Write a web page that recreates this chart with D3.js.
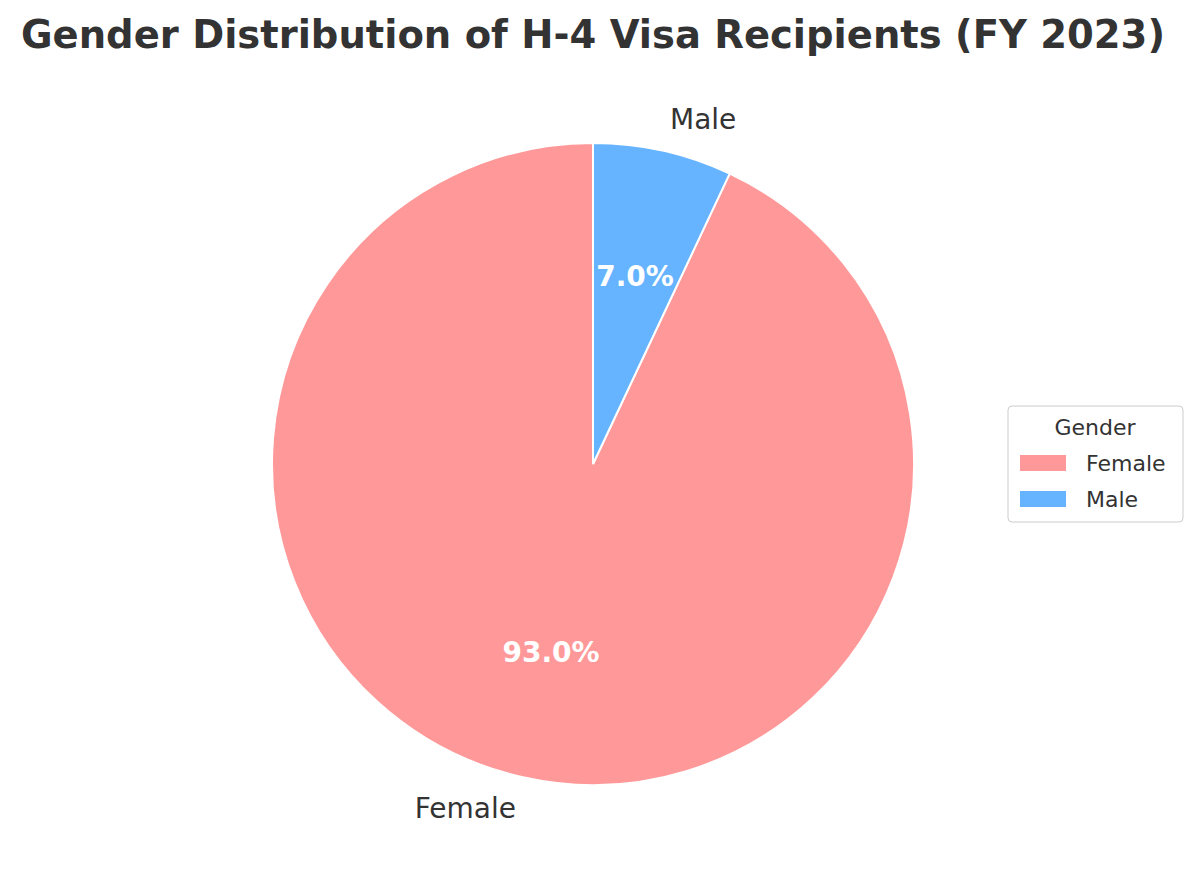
<!DOCTYPE html>
<html><head><meta charset="utf-8">
<script src="https://cdn.jsdelivr.net/npm/d3@7/dist/d3.min.js"></script>
<style>body{margin:0;background:#fff}</style></head>
<body><svg id="c" width="1200" height="885"></svg>
<script>
const categories = ["Female", "Male"];
const values = [93.0, 7.0];
const colors = ["#ff9999", "#66b3ff"];
const svg = d3.select("#c");
const font = "DejaVu Sans, sans-serif";
svg.append("text").attr("x", 593).attr("y", 48).attr("text-anchor", "middle")
  .attr("font-family", font).attr("font-weight", "bold").attr("font-size", 38.5).attr("fill", "#333")
  .text("Gender Distribution of H-4 Visa Recipients (FY 2023)");
const cx = 593, cy = 464, r = 321;
const total = d3.sum(values);
const pie = d3.pie().sort(null)
  .startAngle(-2 * Math.PI * values[0] / total).endAngle(2 * Math.PI * values[1] / total);
const arcs = pie(values);
const g = svg.append("g").attr("transform", `translate(${cx},${cy})`);
g.selectAll("path").data(arcs).join("path")
  .attr("d", d3.arc().innerRadius(0).outerRadius(r))
  .attr("fill", (d, i) => colors[i]).attr("stroke", "#fff").attr("stroke-width", 2);
const pos = (d, k) => { const a = (d.startAngle + d.endAngle) / 2; return [Math.sin(a) * r * k, -Math.cos(a) * r * k]; };
g.selectAll(".pct").data(arcs).join("text")
  .attr("x", d => pos(d, 0.6)[0]).attr("y", d => pos(d, 0.6)[1]).attr("dy", "0.35em")
  .attr("text-anchor", "middle").attr("font-family", font).attr("font-weight", "bold")
  .attr("font-size", 28).attr("fill", "#fff").text(d => d.value.toFixed(1) + "%");
g.selectAll(".lab").data(arcs).join("text")
  .attr("x", d => pos(d, 1.1)[0]).attr("y", d => pos(d, 1.1)[1]).attr("dy", "0.35em")
  .attr("text-anchor", d => pos(d, 1)[0] > 0 ? "start" : "end").attr("font-family", font)
  .attr("font-size", 28).attr("fill", "#333").text((d, i) => categories[i]);
const lg = svg.append("g").attr("transform", "translate(1008,406)");
lg.append("rect").attr("width", 175).attr("height", 116).attr("rx", 4)
  .attr("fill", "#fff").attr("stroke", "#ccc");
lg.append("text").attr("x", 87).attr("y", 29).attr("text-anchor", "middle")
  .attr("font-family", font).attr("font-size", 22).attr("fill", "#333").text("Gender");
categories.forEach((c, i) => {
  lg.append("rect").attr("x", 12).attr("y", 49 + i * 36).attr("width", 46).attr("height", 16).attr("fill", colors[i]);
  lg.append("text").attr("x", 78).attr("y", 57 + i * 36).attr("dy", "0.35em")
    .attr("font-family", font).attr("font-size", 22).attr("fill", "#333").text(c);
});
</script></body></html>
